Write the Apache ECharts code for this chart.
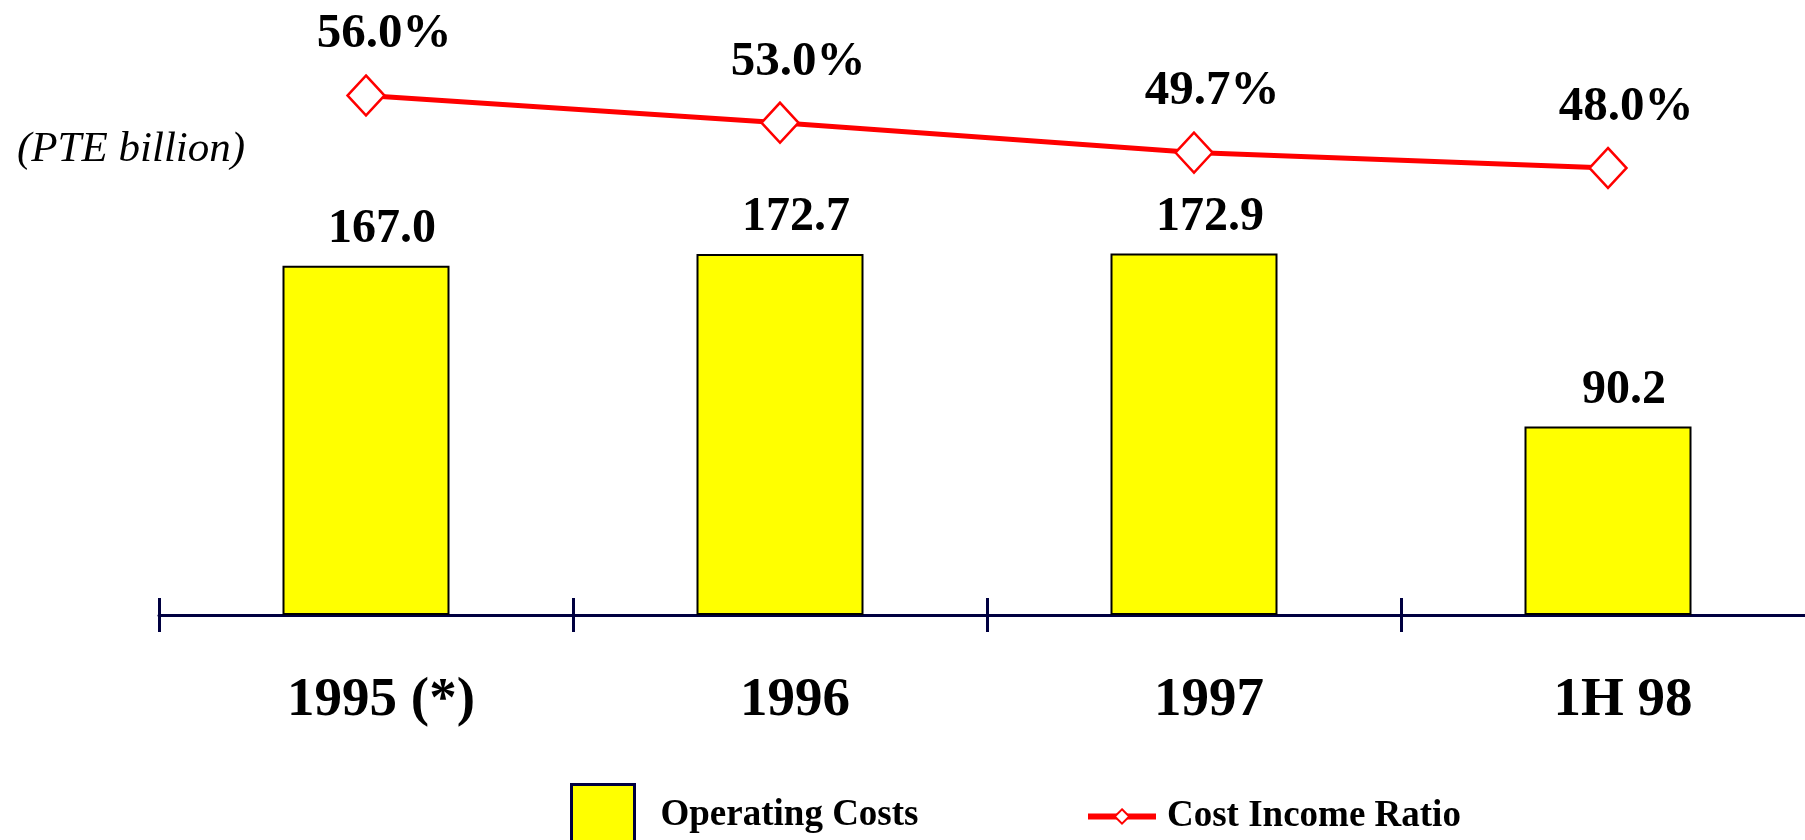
<!DOCTYPE html>
<html>
<head>
<meta charset="utf-8">
<script src="https://cdn.jsdelivr.net/npm/echarts@6/dist/echarts.min.js"></script>
<style>
html,body{margin:0;padding:0;background:#fff;}
#chart{width:1805px;height:840px;}
</style>
</head>
<body>
<div id="chart"></div>
<script>
const categories = ['1995 (*)', '1996', '1997', '1H 98'];
const operatingCosts = [167.0, 172.7, 172.9, 90.2];
const costIncomeRatio = [56.0, 53.0, 49.7, 48.0];
const unitLabel = '(PTE billion)';
const seriesNames = ['Operating Costs', 'Cost Income Ratio'];

const FONT = '"Liberation Serif", "Times New Roman", serif';
const NAVY = '#000040';

const chart = echarts.init(document.getElementById('chart'));
chart.setOption({
  animation: false,
  backgroundColor: '#ffffff',
  title: {
    text: unitLabel,
    left: 12, top: 123,
    textStyle: { fontFamily: FONT, fontStyle: 'italic', fontWeight: 'normal', fontSize: 43, color: '#000' }
  },
  legend: [
    {
      data: [seriesNames[0]],
      left: 565, top: 778,
      icon: 'rect',
      itemWidth: 63, itemHeight: 62,
      itemStyle: { borderColor: NAVY, borderWidth: 3 },
      textStyle: { fontFamily: FONT, fontWeight: 'bold', fontSize: 37, color: '#000', padding: [0, 0, 0, 21] }
    },
    {
      data: [seriesNames[1]],
      left: 1080, top: 793,
      itemWidth: 68, itemHeight: 18,
      lineStyle: { width: 6, color: '#ff0000' },
      itemStyle: { color: '#fff', borderColor: '#ff0000', borderWidth: 2 },
      textStyle: { fontFamily: FONT, fontWeight: 'bold', fontSize: 37, color: '#000', padding: [0, 0, 0, 6] }
    }
  ],
  grid: { left: 159, width: 1656, top: 40, bottom: 225, containLabel: false, outerBoundsMode: 'none' },
  xAxis: [
    {
      type: 'category', data: categories, position: 'bottom',
      axisLine: { lineStyle: { color: NAVY, width: 3 } },
      axisTick: { show: false },
      axisLabel: { interval: 0, margin: 58, fontFamily: FONT, fontWeight: 'bold', fontSize: 55, color: '#000', padding: [0, 0, 0, 30] }
    },
    {
      type: 'category', data: categories, position: 'bottom', offset: -17,
      axisLine: { show: false },
      axisTick: { show: true, length: 34, interval: 0, lineStyle: { color: NAVY, width: 3 } },
      axisLabel: { show: false }
    }
  ],
  yAxis: [
    { type: 'value', min: 0, max: 275, show: false, splitLine: { show: false } },
    { type: 'value', min: -1.34, max: 62.13, show: false, splitLine: { show: false } }
  ],
  series: [
    {
      name: seriesNames[0], type: 'bar', data: operatingCosts,
      xAxisIndex: 0, yAxisIndex: 0, barWidth: 167,
      itemStyle: { color: '#ffff00', borderColor: '#000', borderWidth: 2 },
      label: {
        show: true, position: 'top', distance: 12, offset: [16, 0],
        formatter: p => p.value.toFixed(1),
        fontFamily: FONT, fontWeight: 'bold', fontSize: 48, color: '#000'
      }
    },
    {
      name: seriesNames[1], type: 'line', data: costIncomeRatio,
      xAxisIndex: 0, yAxisIndex: 1, z: 5,
      symbol: 'diamond', symbolSize: [37, 40], showAllSymbol: true,
      lineStyle: { color: '#ff0000', width: 5 },
      itemStyle: { color: '#ffffff', borderColor: '#ff0000', borderWidth: 2.5 },
      label: {
        show: true, position: 'top', distance: 15, offset: [18, 0],
        formatter: p => p.value.toFixed(1) + '%',
        fontFamily: FONT, fontWeight: 'bold', fontSize: 49, color: '#000'
      }
    }
  ]
});
</script>
</body>
</html>
